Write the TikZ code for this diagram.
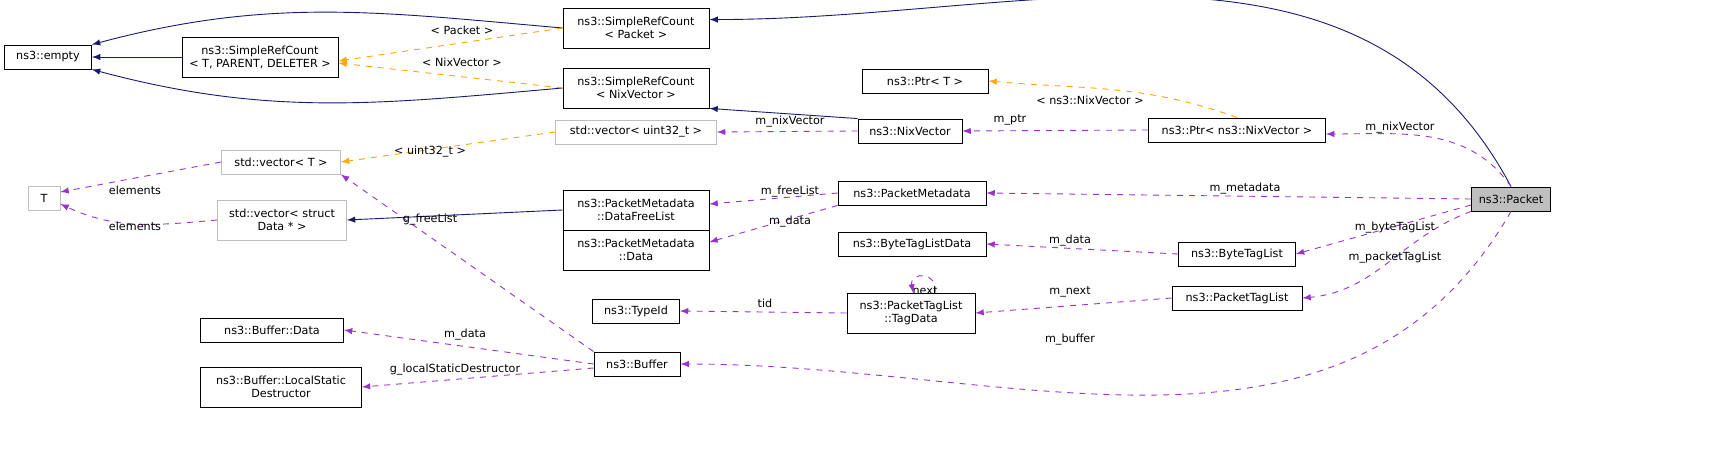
\documentclass[tikz,border=0pt]{standalone}
\usepackage{fontspec}
\setmainfont{DejaVu Sans}
\usepackage{tikz}
\usetikzlibrary{arrows,shapes,backgrounds}
\definecolor{navy}{HTML}{191970}
\definecolor{orange}{HTML}{FFA500}
\definecolor{purple}{HTML}{9A32CD}
\definecolor{graybox}{HTML}{BFBFBF}

\begin{document}
\begin{tikzpicture}[x=0.5pt,y=-0.5pt,
  every node/.style={font=\fontsize{5.6}{6.6}\selectfont},
  box/.style={draw=black,line width=0.45pt,align=center,inner sep=1pt,minimum height=12pt},
  two/.style={minimum height=20pt},
  grey/.style={box,draw=graybox},
  lbl/.style={inner sep=0pt},
  inh/.style={draw=navy,line width=0.45pt,-latex},
  tmpl/.style={draw=orange,line width=0.45pt,dashed,-latex},
  use/.style={draw=purple,line width=0.45pt,dashed,-latex}]
  \useasboundingbox (0,0) rectangle (1715,451);
  \begin{scope}[overlay]

  % class boxes
  \node[box,minimum width=43.5pt] (empty) at (48,57) {ns3::empty};
  \node[box,two,minimum width=78pt] (srct) at (260,57) {ns3::SimpleRefCount\\< T, PARENT, DELETER >};
  \node[box,two,minimum width=73pt] (srcpk) at (636,28) {ns3::SimpleRefCount\\< Packet >};
  \node[box,two,minimum width=73pt] (srcnix) at (636,88) {ns3::SimpleRefCount\\< NixVector >};
  \node[box,minimum width=63pt] (ptrt) at (925,81) {ns3::Ptr< T >};
  \node[box,minimum width=52pt] (nix) at (910,131) {ns3::NixVector};
  \node[box,minimum width=88.5pt] (ptrnix) at (1237,130) {ns3::Ptr< ns3::NixVector >};
  \node[grey,minimum width=80.5pt] (vecu) at (636,132) {std::vector< uint32\_t >};
  \node[grey,minimum width=59.5pt] (vect) at (281,162) {std::vector< T >};
  \node[grey,minimum width=16pt] (t) at (44,198) {T};
  \node[grey,two,minimum width=64.5pt] (vecs) at (282,220) {std::vector< struct\\Data * >};
  \node[box,two,minimum width=73pt] (freel) at (636,210) {ns3::PacketMetadata\\::DataFreeList};
  \node[box,minimum width=74pt] (meta) at (912,193) {ns3::PacketMetadata};
  \node[box,minimum width=74pt] (btld) at (912,244) {ns3::ByteTagListData};
  \node[box,two,minimum width=73pt] (mdata) at (636,250) {ns3::PacketMetadata\\::Data};
  \node[box,minimum width=58.5pt] (btl) at (1237,254) {ns3::ByteTagList};
  \node[box,fill=graybox,minimum width=39.5pt] (pkt) at (1511,199) {ns3::Packet};
  \node[box,two,minimum width=64pt] (tagd) at (911,313) {ns3::PacketTagList\\::TagData};
  \node[box,minimum width=43.5pt] (tid) at (636,311) {ns3::TypeId};
  \node[box,minimum width=65pt] (ptl) at (1237,298) {ns3::PacketTagList};
  \node[box,minimum width=71.5pt] (bdata) at (272,330) {ns3::Buffer::Data};
  \node[box,minimum width=43pt] (buf) at (637,364) {ns3::Buffer};
  \node[box,two,minimum width=80.5pt] (lsd) at (281,387) {ns3::Buffer::LocalStatic\\Destructor};

  % inheritance
  \draw[inh] (srcpk.west) to[out=175,in=15] (empty.north east);
  \draw[inh] (srcnix.west) to[out=185,in=-15] (empty.south east);
  \draw[inh] (srct) -- (empty);
  \draw[inh] (nix.north west) -- (srcnix.south east);
  \draw[inh] (pkt.north) to[out=118,in=0] ([yshift=-6pt]srcpk.north east);
  \draw[inh] (freel.west) -- (vecs.east);

  % template instances
  \draw[tmpl] (srcpk.west) -- ([yshift=-2pt]srct.east);
  \draw[tmpl] (srcnix.west) -- ([yshift=-3pt]srct.east);
  \draw[tmpl] (ptrnix.north) to[out=160,in=-5] (ptrt.east);
  \draw[tmpl] (vecu.west) -- (vect.east);
  \node[lbl] (lpk) at (462,30) {< Packet >};
  \node[lbl] (lnv) at (462,62) {< NixVector >};
  \node[lbl] (lpn) at (1090,100) {< ns3::NixVector >};
  \node[lbl] (lu) at (430,152) {< uint32\_t >};

  % usage
  \draw[use] (pkt.north) to[out=125,in=0] ([yshift=-2pt]ptrnix.east);
  \draw[use] (ptrnix.west) -- (nix.east);
  \draw[use] (nix.west) -- (vecu.east);
  \draw[use] (vect.west) -- ([yshift=3pt]t.east);
  \draw[use] (vecs.west) to[out=185,in=-25] ([yshift=-3pt]t.east);
  \draw[use] (meta.west) -- ([yshift=3pt]freel.east);
  \draw[use] (meta.south west) -- ([yshift=4pt]mdata.east);
  \draw[use] (pkt.west) -- (meta.east);
  \draw[use] (btl.west) -- (btld.east);
  \draw[use] ([yshift=-3pt]pkt.west) -- (btl.east);
  \draw[use] (pkt.south west) to[out=200,in=5] (ptl.east);
  \draw[use] (ptl.west) -- (tagd.east);
  \draw[use] ([xshift=12pt]tagd.north) to[out=80,in=100,looseness=2.5] ([xshift=1pt]tagd.north);
  \draw[use] (tagd.west) -- (tid.east);
  \draw[use] (buf.north west) -- (vect.south east);
  \draw[use] (buf.west) -- (bdata.east);
  \draw[use] ([yshift=-2pt]buf.west) -- (lsd.east);
  \draw[use] (pkt.south) to[out=240,in=0] (buf.east);
  \node[lbl] (lnv2) at (1400,128) {m\_nixVector};
  \node[lbl] (lptr) at (1010,120) {m\_ptr};
  \node[lbl] (lnv1) at (790,122) {m\_nixVector};
  \node[lbl] (le1) at (135,190) {elements};
  \node[lbl] (le2) at (135,226) {elements};
  \node[lbl] (lgf) at (430,220) {g\_freeList};
  \node[lbl] (lfl) at (790,192) {m\_freeList};
  \node[lbl] (lmd) at (790,222) {m\_data};
  \node[lbl] (lmeta) at (1245,189) {m\_metadata};
  \node[lbl] (lbd) at (1070,241) {m\_data};
  \node[lbl] (lbtl) at (1395,228) {m\_byteTagList};
  \node[lbl] (lptl) at (1395,258) {m\_packetTagList};
  \node[lbl] (lnx) at (1070,292) {m\_next};
  \node[lbl] (lself) at (925,291) {next};
  \node[lbl] (ltid) at (765,303) {tid};
  \node[lbl] (lbufd) at (465,335) {m\_data};
  \node[lbl] (llsd) at (455,370) {g\_localStaticDestructor};
  \node[lbl] (lbuf) at (1070,340) {m\_buffer};
  \end{scope}
\end{tikzpicture}
\end{document}
